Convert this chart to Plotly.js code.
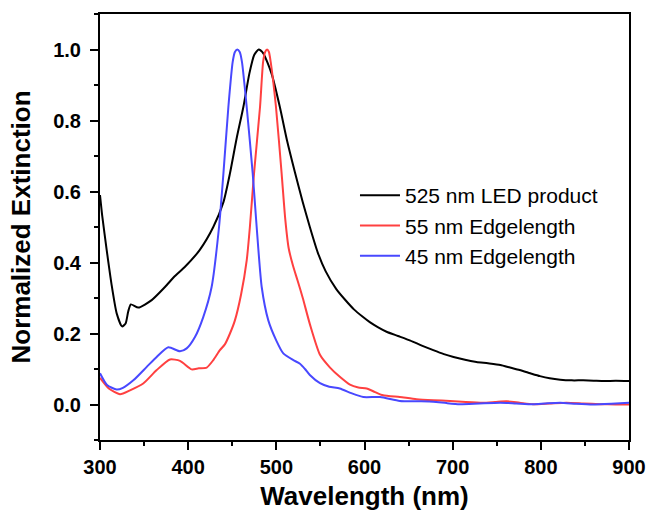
<!DOCTYPE html>
<html>
<head>
<meta charset="utf-8">
<script src="https://cdn.plot.ly/plotly-3.0.1.min.js"></script>
<style>html,body{margin:0;padding:0;background:#fff;}#chart{width:650px;height:518px;}</style>
</head>
<body>
<div id="chart"></div>
<script>
// Wavelength (nm) and normalized extinction
const ledX = [300,302.6,307.6,313,319,325,329,332,335,343.5,358.6,373.7,385,396.4,413,428.5,440,447.4,455,462.6,469.4,475,480,485,494.6,504,512,521,530,538,547,556,568,578,588,598,606,615,625,638,652,665,678,690,701,714,727,740,754,765,776,788,799,810,822,835,848,860,872,885,900];
const ledY = [0.59,0.53,0.435,0.34,0.256,0.22,0.228,0.262,0.282,0.273,0.294,0.331,0.362,0.388,0.435,0.50,0.57,0.651,0.75,0.838,0.932,0.985,1.0,0.99,0.932,0.838,0.745,0.655,0.57,0.50,0.428,0.375,0.325,0.295,0.268,0.247,0.232,0.218,0.205,0.193,0.18,0.166,0.153,0.142,0.134,0.126,0.12,0.116,0.111,0.104,0.097,0.088,0.08,0.074,0.07,0.068,0.068,0.067,0.066,0.067,0.066];

const edge55X = [300,310,322.7,334,349,364.3,379.4,390.7,404,412,421,428.5,436,441.8,447.4,453,460,466.4,470,474.7,481.5,485,487.3,489.5,491.6,493.6,499.6,506,510.2,514,519,524,530,538.2,549.5,560.9,572,583.5,593,602.5,612,621,640,659,678,697,715,734,748,761,776,791,810,829,848,867,885,900];
const edge55Y = [0.075,0.045,0.029,0.04,0.059,0.097,0.127,0.123,0.099,0.102,0.104,0.125,0.153,0.17,0.20,0.237,0.31,0.406,0.5,0.651,0.838,0.965,0.993,1.0,0.993,0.965,0.838,0.651,0.52,0.44,0.39,0.35,0.3,0.225,0.14,0.104,0.078,0.056,0.048,0.045,0.035,0.026,0.021,0.015,0.012,0.01,0.007,0.005,0.007,0.009,0.005,0.001,0.003,0.005,0.003,0.001,0.0,0.0];

const edge45X = [300,308,318.9,326,337.8,353,364.3,377.5,390.7,398.3,407.7,417.2,426.6,435,440,445.6,450.5,453,455.7,458.5,461,466.4,473.2,477.7,483.4,490.9,500,507.9,519.3,526.8,532.5,538,549.5,560,572,585,598.7,617.6,640,660,678,693,708,730,754,772,791,805,822,840,859,880,900];
const edge45Y = [0.088,0.055,0.042,0.047,0.068,0.106,0.134,0.161,0.15,0.158,0.19,0.247,0.331,0.50,0.651,0.838,0.965,0.993,1.0,0.993,0.965,0.838,0.651,0.50,0.331,0.237,0.18,0.144,0.125,0.115,0.1,0.083,0.06,0.05,0.045,0.032,0.021,0.021,0.01,0.009,0.008,0.004,0.001,0.003,0.005,0.003,0.001,0.003,0.005,0.002,0.0,0.002,0.005];

const names = ['525 nm LED product','55 nm Edgelength','45 nm Edgelength'];
const xTicks = [300,400,500,600,700,800,900];
const yTicks = [0.0,0.2,0.4,0.6,0.8,1.0];

const FONT = 'Arial, "Liberation Sans", sans-serif';

const traces = [
  {x: ledX, y: ledY, name: names[0], mode:'lines', line:{color:'#000000', width:2, shape:'spline', smoothing:0.6}},
  {x: edge55X, y: edge55Y, name: names[1], mode:'lines', line:{color:'#ff4040', width:2, shape:'spline', smoothing:0.6}},
  {x: edge45X, y: edge45Y, name: names[2], mode:'lines', line:{color:'#4848ff', width:2, shape:'spline', smoothing:0.6}}
];

const axisCommon = {
  showline:true, linecolor:'#000', linewidth:2, mirror:true,
  ticks:'outside', ticklen:8, tickwidth:2, tickcolor:'#000',
  showgrid:false, zeroline:false,
  tickfont:{family:FONT, size:20, color:'#000', weight:'bold'}
};

const layout = {
  width:650, height:518,
  margin:{l:100, r:21, t:14, b:78},
  paper_bgcolor:'#fff', plot_bgcolor:'#fff',
  showlegend:true,
  legend:{x:0.482, y:0.622, xanchor:'left', yanchor:'top', bgcolor:'rgba(0,0,0,0)',
          font:{family:FONT, size:21, color:'#000'}, tracegroupgap:0, itemwidth:40},
  xaxis: Object.assign({}, axisCommon, {
    range:[300,900], tickvals:xTicks, ticktext:xTicks.map(String),
    minor:{dtick:50, tick0:300, ticks:'outside', ticklen:4, tickwidth:2, tickcolor:'#000'},
    title:{text:'Wavelength (nm)', font:{family:FONT, size:26, color:'#000', weight:'bold'}, standoff:10}
  }),
  yaxis: Object.assign({}, axisCommon, {
    range:[-0.1,1.1], tickvals:yTicks, ticktext:yTicks.map(v=>v.toFixed(1)),
    ticklabelstandoff:5,
    minor:{dtick:0.1, tick0:0, ticks:'outside', ticklen:4, tickwidth:2, tickcolor:'#000'},
    title:{text:'Normalized Extinction', font:{family:FONT, size:26, color:'#000', weight:'bold'}, standoff:15}
  })
};

Plotly.newPlot('chart', traces, layout, {staticPlot:true, displayModeBar:false});
</script>
</body>
</html>
